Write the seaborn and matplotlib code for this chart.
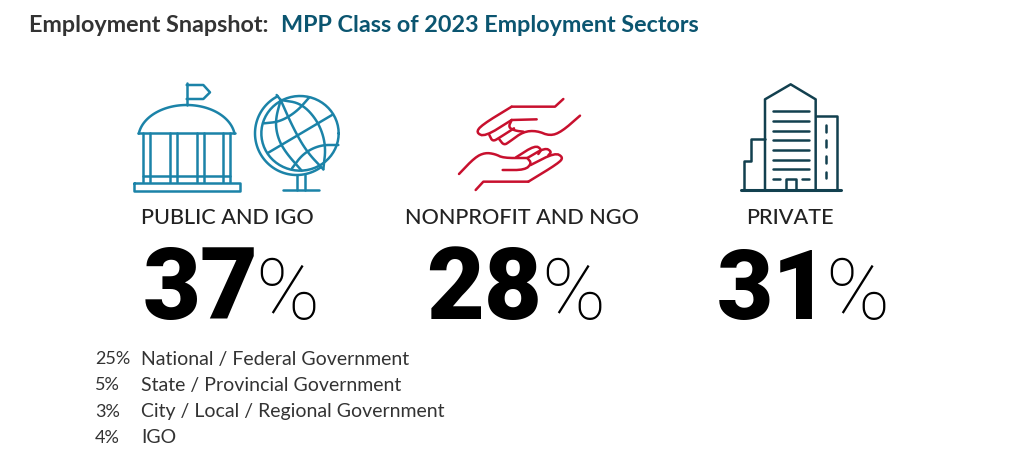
"""Employment snapshot infographic, drawn on one full-figure axes in pixel units."""

import numpy as np
import matplotlib
matplotlib.use("Agg")
import matplotlib.pyplot as plt
import seaborn as sns

sectors = ["PUBLIC AND IGO", "NONPROFIT AND NGO", "PRIVATE"]
sector_pcts = [37, 28, 31]
detail_pcts = [25, 5, 3, 4]
detail_labels = [
    "National / Federal Government",
    "State / Provincial Government",
    "City / Local / Regional Government",
    "IGO",
]

BLUE = "#1b83a8"
RED = "#c8102e"
DARK = "#12404f"
TEAL = "#0b5570"
GREY = "#333333"

sns.set_theme(style="white")
plt.rcParams["font.family"] = ["Lato", "DejaVu Sans"]

fig = plt.figure(figsize=(10.36, 4.59), dpi=100)
ax = fig.add_axes([0, 0, 1, 1])
ax.set_xlim(0, 1036)
ax.set_ylim(459, 0)
ax.axis("off")


def smooth(points, rounds=3):
    # corner cutting, keeps both end points
    pts = np.array(points, dtype=float)
    for _ in range(rounds):
        q = 0.75 * pts[:-1] + 0.25 * pts[1:]
        r = 0.25 * pts[:-1] + 0.75 * pts[1:]
        mid = np.empty((2 * len(q), 2))
        mid[0::2] = q
        mid[1::2] = r
        pts = np.vstack([pts[:1], mid, pts[-1:]])
    return pts


def stroke(points, origin, color, lw=1.8, scale=3.0):
    # points are in zoomed crop units, origin is the crop corner
    pts = np.array(points, dtype=float)
    ax.plot(origin[0] + pts[:, 0] / scale, origin[1] + pts[:, 1] / scale,
            color=color, lw=lw, solid_capstyle="round", solid_joinstyle="round")


def arc(cx, cy, rx, ry, start, end, n=60):
    t = np.radians(np.linspace(start, end, n))
    return np.column_stack([cx + rx * np.cos(t), cy + ry * np.sin(t)])


# building and globe
o1 = (120, 70)
stroke([(200, 105), (200, 40)], o1, BLUE)
stroke([(200, 45), (250, 45), (270, 67), (250, 87), (200, 87)], o1, BLUE)
stroke(arc(200, 205, 145, 100, 188, 352), o1, BLUE)
stroke([(55, 190), (345, 190)], o1, BLUE)
for x in [68, 90, 150, 172, 230, 252, 310, 330]:
    stroke([(x, 190), (x, 335)], o1, BLUE)
stroke([(68, 318), (330, 318)], o1, BLUE)
stroke([(42, 338), (360, 338), (360, 362), (42, 362), (42, 338)], o1, BLUE)

stroke(arc(540, 190, 116, 112, 0, 360), o1, BLUE)
stroke(arc(530, 190, 125, 125, 54, 243), o1, BLUE)
stroke([(470, 75), (482, 90)], o1, BLUE)
stroke(smooth([(482, 90), (520, 175), (560, 245), (610, 298)]), o1, BLUE)
stroke(smooth([(482, 90), (466, 150), (472, 200), (495, 245), (545, 302)]), o1, BLUE)
stroke(smooth([(482, 90), (545, 100), (595, 155), (618, 225), (610, 298)]), o1, BLUE)
stroke(smooth([(432, 160), (480, 155), (530, 125), (568, 82)]), o1, BLUE)
stroke([(445, 248), (636, 135)], o1, BLUE)
stroke(smooth([(516, 295), (550, 250), (600, 225), (655, 225)]), o1, BLUE)
stroke([(530, 315), (530, 360)], o1, BLUE)
stroke([(555, 315), (555, 360)], o1, BLUE)
stroke([(490, 360), (597, 360)], o1, BLUE)

# hands
o2 = (440, 80)
stroke([(370, 57), (345, 80), (215, 80)], o2, RED)
stroke(smooth([(215, 80), (125, 135), (108, 158), (135, 170), (215, 120)], 2), o2, RED)
stroke([(215, 120), (290, 118)], o2, RED)
stroke(smooth([(148, 165), (158, 185), (180, 172), (222, 145)], 2), o2, RED)
stroke(smooth([(178, 178), (192, 196), (210, 184), (250, 155), (290, 152), (330, 168),
               (365, 155), (420, 107)], 2), o2, RED)
stroke(smooth([(215, 120), (205, 142), (225, 152), (250, 155)], 2), o2, RED)
stroke(smooth([(57, 282), (105, 232), (135, 218), (165, 222), (190, 234), (260, 234)], 2), o2, RED)
stroke(smooth([(228, 232), (285, 196), (305, 208), (295, 222)], 2), o2, RED)
stroke(smooth([(262, 234), (315, 203), (335, 215), (325, 226)], 2), o2, RED)
stroke(smooth([(272, 255), (345, 218), (370, 232), (355, 250), (265, 305)], 2), o2, RED)
stroke([(265, 305), (130, 305), (107, 330)], o2, RED)
stroke(smooth([(188, 270), (255, 270), (275, 250), (262, 234)], 2), o2, RED)

# office towers
o3 = (720, 70)
stroke([(135, 358), (135, 88), (212, 43), (287, 88), (287, 358)], o3, DARK)
stroke([(287, 138), (350, 138), (350, 358)], o3, DARK)
stroke([(135, 208), (94, 208), (94, 272), (72, 272), (72, 358)], o3, DARK)
stroke([(62, 359), (362, 359)], o3, DARK, lw=2.2)
for y in [122, 152, 182, 211, 240, 269, 298]:
    stroke([(160, y), (266, y)], o3, DARK)
stroke([(160, 327), (180, 327)], o3, DARK)
stroke([(245, 327), (266, 327)], o3, DARK)
stroke([(197, 358), (197, 327), (228, 327), (228, 358)], o3, DARK)
for y0 in [165, 210, 258, 305]:
    stroke([(317, y0), (317, y0 + 20)], o3, DARK)

# title
ax.text(29, 25, "Employment Snapshot:", fontsize=16.8, fontweight="bold", color=GREY,
        va="center", ha="left")
ax.text(281, 25, "MPP Class of 2023 Employment Sectors", fontsize=16.8, fontweight="bold",
        color=TEAL, va="center", ha="left")

# sector headings and big percentages
sector_x = [227, 522, 790]
num_x = [143, 426, 717]
num_size = [72, 72, 70]
sign_x = [255, 541, 825]
for name, pct, cx, nx, ns, sx in zip(sectors, sector_pcts, sector_x, num_x, num_size, sign_x):
    ax.text(cx, 218, name, fontsize=15.6, fontweight="medium", color="#222222",
            ha="center", va="center")
    ax.text(nx, 319, str(pct), fontsize=ns, fontweight="black", family="Roboto",
            color="black", ha="left", va="baseline")
    ax.text(sx, 319, "%", fontsize=62, fontweight="light", family="Roboto", color="black",
            ha="left", va="baseline")

# breakdown list
for i, (p, label) in enumerate(zip(detail_pcts, detail_labels)):
    y = 359 + i * 26.3
    ax.text(95, y, f"{p}%", fontsize=13, color="#333333", ha="left", va="center")
    ax.text(141, y, label, fontsize=14, color="#333333", ha="left", va="center")

fig.savefig("out.png", dpi=100, facecolor="white")
